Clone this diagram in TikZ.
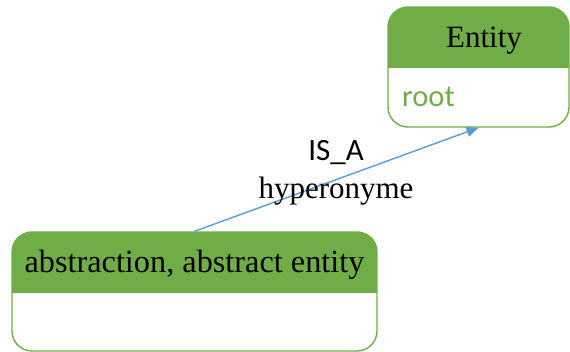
\documentclass[tikz,border=0pt]{standalone}
\usepackage{fontspec}
\setmainfont{Liberation Serif}
\newfontfamily\calfont{Carlito}
\usetikzlibrary{arrows.meta}
\definecolor{boxgreen}{HTML}{70AD47}
\definecolor{linkblue}{HTML}{5B9BD5}
\tikzset{
  classbox/.style={draw=boxgreen, line width=1.4pt, rounded corners=20pt, inner sep=0pt},
  titletext/.style={font=\fontsize{31}{36}\selectfont, text=black, inner sep=0pt, anchor=base},
  attrtext/.style={font=\calfont\fontsize{30.5}{36}\selectfont, text=boxgreen, inner sep=0pt, anchor=base west},
  link/.style={draw=linkblue, line width=1.4pt, -{Triangle[length=12pt,width=10pt]}},
  lbltop/.style={font=\calfont\fontsize{31}{36}\selectfont, inner sep=0pt, anchor=base},
  lblbot/.style={font=\fontsize{31}{36}\selectfont, inner sep=0pt, anchor=base}
}
\begin{document}
\begin{tikzpicture}[x=1pt,y=-1pt]
\useasboundingbox (0,0) rectangle (570,352);
% header fills
\begin{scope}
\clip[rounded corners=20pt] (388,7) rectangle (569,127);
\fill[boxgreen] (388,7) rectangle (569,68);
\end{scope}
\begin{scope}
\clip[rounded corners=20pt] (12,232) rectangle (377,351);
\fill[boxgreen] (12,232) rectangle (377,293);
\end{scope}
% boxes
\node[classbox, minimum width=181pt, minimum height=120pt] (entity) at (478.5,67) {};
\node[classbox, minimum width=365pt, minimum height=119pt] (abs) at (194.5,291.5) {};
% texts
\node[titletext] (entityname) at (484,48) {Entity};
\node[attrtext] (root) at (402,107) {root};
\node[titletext, font=\fontsize{32.3}{36}\selectfont] (absname) at (194.5,273) {abstraction, abstract entity};
% connector
\draw[link] (abs.north) -- (entity.south);
\node[lbltop] (isa) at (336,161) {IS\_A};
\node[lblbot] (hyper) at (336,199) {hyperonyme};
\end{tikzpicture}
\end{document}
